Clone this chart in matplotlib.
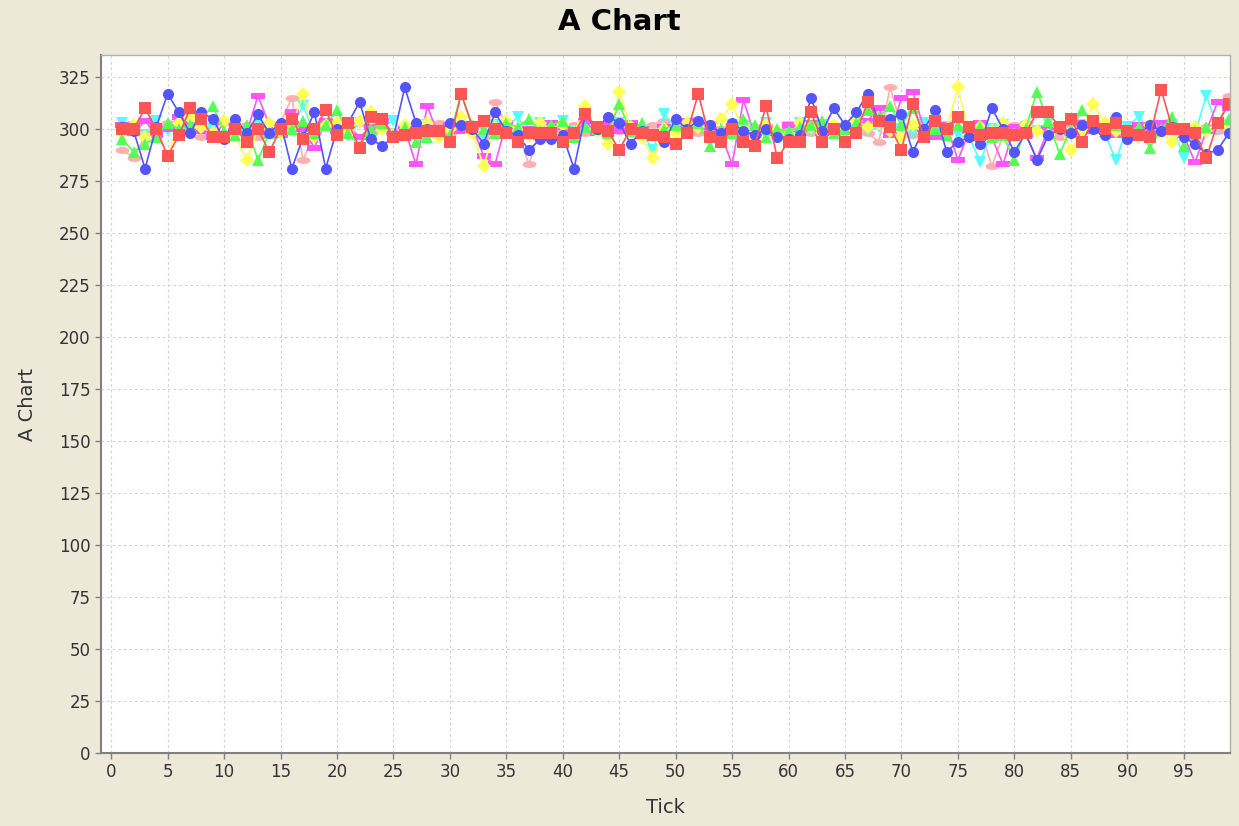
import numpy as np
import matplotlib
matplotlib.use('Agg')
import matplotlib.pyplot as plt
from matplotlib.path import Path
from matplotlib.transforms import Affine2D

# Data (ticks 1..99)
ticks = list(range(1, 100))

red = [300, 300, 310, 300, 287, 297, 310, 305, 296, 296,
       300, 294, 300, 289, 300, 305, 295, 300, 309, 297,
       303, 291, 306, 305, 296, 297, 298, 299, 299, 294,
       317, 301, 304, 300, 298, 294, 298, 298, 298, 294,
       298, 307, 301, 299, 290, 300, 298, 297, 296, 293,
       298, 317, 296, 294, 300, 294, 292, 311, 286, 294,
       294, 308, 294, 300, 294, 298, 313, 304, 301, 290,
       312, 296, 304, 300, 306, 301, 297, 298, 298, 297,
       298, 308, 308, 301, 305, 294, 304, 300, 303, 299,
       297, 296, 319, 300, 300, 298, 286, 303, 312]

blue = [301, 299, 281, 301, 317, 308, 298, 308, 305, 295,
        305, 298, 307, 298, 303, 281, 296, 308, 281, 300,
        303, 313, 295, 292, 296, 320, 303, 300, 299, 303,
        302, 300, 293, 308, 299, 297, 290, 295, 295, 297,
        281, 307, 300, 306, 303, 293, 299, 297, 294, 305,
        300, 304, 302, 298, 303, 299, 297, 300, 296, 295,
        297, 315, 299, 310, 302, 308, 317, 304, 305, 307,
        289, 300, 309, 289, 294, 296, 293, 310, 300, 289,
        298, 285, 297, 300, 298, 302, 300, 297, 306, 295,
        297, 302, 299, 301, 296, 293, 288, 290, 298]

green = [295, 289, 293, 296, 303, 300, 302, 305, 311, 299,
         297, 302, 285, 298, 301, 300, 304, 298, 302, 309,
         298, 292, 300, 303, 297, 301, 294, 296, 299, 297,
         317, 302, 300, 298, 303, 301, 305, 299, 302, 304,
         296, 301, 300, 298, 312, 299, 303, 297, 300, 302,
         298, 303, 292, 300, 298, 305, 302, 296, 300, 299,
         301, 302, 304, 298, 300, 303, 309, 306, 311, 302,
         310, 298, 300, 297, 302, 299, 301, 296, 297, 285,
         300, 318, 304, 288, 300, 309, 303, 299, 302, 298,
         301, 291, 300, 306, 292, 299, 301, 303, 305]

yellow = [298, 302, 296, 300, 287, 303, 306, 301, 298, 304,
          297, 285, 300, 303, 298, 301, 317, 296, 302, 303,
          299, 304, 308, 300, 297, 302, 299, 303, 296, 300,
          306, 298, 282, 301, 304, 299, 297, 303, 300, 302,
          298, 311, 299, 293, 318, 301, 296, 286, 300, 298,
          303, 301, 297, 305, 312, 300, 296, 302, 299, 297,
          303, 301, 298, 302, 300, 304, 301, 303, 299, 296,
          302, 298, 305, 300, 320, 297, 301, 299, 303, 297,
          302, 299, 297, 301, 290, 300, 312, 303, 299, 297,
          296, 302, 298, 294, 300, 301, 299, 303, 300]

magenta = [302, 298, 304, 297, 300, 306, 302, 299, 296, 303,
           300, 298, 316, 302, 297, 308, 300, 291, 304, 299,
           302, 296, 301, 304, 298, 300, 283, 311, 297, 302,
           299, 301, 287, 283, 303, 298, 300, 296, 303, 301,
           297, 304, 298, 302, 299, 303, 300, 296, 301, 299,
           304, 302, 300, 298, 283, 314, 297, 301, 298, 302,
           300, 303, 298, 301, 299, 302, 304, 310, 297, 315,
           318, 300, 296, 302, 285, 299, 303, 296, 283, 301,
           297, 286, 300, 302, 298, 303, 299, 301, 297, 300,
           302, 298, 303, 301, 297, 284, 299, 313, 310]

cyan = [303, 301, 297, 304, 299, 302, 298, 303, 300, 296,
        302, 299, 304, 300, 297, 301, 311, 298, 302, 300,
        297, 303, 299, 301, 304, 298, 300, 302, 297, 301,
        303, 299, 296, 302, 300, 306, 298, 303, 301, 304,
        299, 302, 300, 297, 303, 300, 298, 290, 307, 301,
        299, 303, 301, 297, 302, 300, 299, 303, 296, 301,
        303, 299, 302, 300, 297, 303, 299, 301, 304, 300,
        298, 303, 299, 301, 297, 296, 284, 300, 302, 298,
        301, 299, 303, 300, 297, 302, 300, 298, 285, 301,
        306, 299, 300, 302, 286, 298, 316, 301, 300]

pink = [290, 286, 297, 301, 303, 299, 302, 296, 300, 304,
        298, 302, 296, 300, 303, 315, 285, 299, 302, 297,
        300, 303, 298, 301, 299, 302, 297, 300, 303, 298,
        301, 299, 296, 313, 302, 299, 283, 301, 297, 300,
        302, 298, 301, 303, 299, 300, 297, 302, 304, 299,
        301, 298, 303, 300, 302, 297, 301, 299, 296, 302,
        300, 298, 303, 301, 299, 302, 298, 294, 320, 301,
        297, 303, 299, 301, 307, 298, 300, 282, 297, 302,
        303, 299, 301, 296, 303, 300, 302, 298, 301, 297,
        300, 303, 299, 302, 298, 300, 301, 299, 316]

# Custom JFreeChart-like shapes
rect_marker = Path([(-1, -0.5), (1, -0.5), (1, 0.5), (-1, 0.5), (-1, -0.5)],
                   [Path.MOVETO, Path.LINETO, Path.LINETO, Path.LINETO, Path.CLOSEPOLY])
ellipse_marker = Path.unit_circle().transformed(Affine2D().scale(1.0, 0.5))

# Drawn in reverse order so the first series ends up on top
series = [
    (pink, '#FFAFAF', ellipse_marker, 10),
    (cyan, '#55FFFF', 'v', 8),
    (magenta, '#FF55FF', rect_marker, 10),
    (yellow, '#FFFF55', 'D', 7),
    (green, '#55FF55', '^', 8),
    (blue, '#5555FF', 'o', 8),
    (red, '#FF5555', 's', 8),
]

bg = '#ECE9D8'
fig = plt.figure(figsize=(12.39, 8.26), dpi=100, facecolor=bg)
ax = fig.add_axes([101 / 1239, 1 - 753 / 826, (1230 - 101) / 1239, (753 - 55) / 826])
ax.set_facecolor('white')

for vals, col, mk, ms in series:
    ax.plot(ticks, vals, color=col, linewidth=1.2, marker=mk, markersize=ms,
            markerfacecolor=col, markeredgecolor=col, markeredgewidth=0)

ax.set_xlim(-0.9, 99.1)
ax.set_ylim(0, 335.6)
ax.set_xticks(range(0, 100, 5))
ax.set_yticks(range(0, 326, 25))
ax.grid(True, color='#D4D4D4', linestyle=(0, (2.5, 2.5)), linewidth=0.8)
ax.set_axisbelow(True)

for s in ax.spines.values():
    s.set_color('#B0B0B0')
    s.set_linewidth(1.0)
ax.spines['left'].set_color('#808080')
ax.spines['bottom'].set_color('#808080')
ax.spines['left'].set_linewidth(1.5)
ax.spines['bottom'].set_linewidth(1.5)

ax.tick_params(axis='both', colors='#808080', labelcolor='#333333', labelsize=12,
               length=4, width=1)

ax.set_xlabel('Tick', fontsize=14, color='#333333', labelpad=12)
ax.set_ylabel('A Chart', fontsize=14, color='#333333', labelpad=16)
fig.text(0.5, 1 - 22 / 826, 'A Chart', ha='center', va='center',
         fontsize=21, fontweight='bold', color='black')

plt.savefig('out.png', dpi=100, facecolor=bg)
